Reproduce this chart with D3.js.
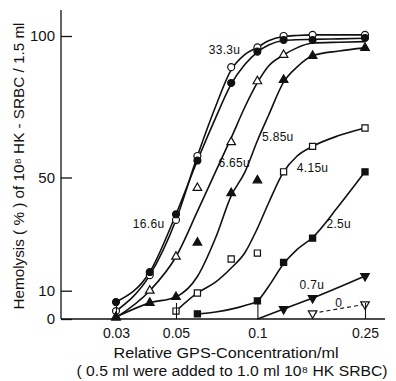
<!DOCTYPE html>
<html><head><meta charset="utf-8">
<script src="https://cdn.jsdelivr.net/npm/d3@7"></script>
<style>
html,body{margin:0;padding:0;background:#fff;}
svg{display:block;}
text{font-family:"Liberation Sans",Arial,sans-serif;fill:#111;}
</style></head>
<body>
<svg id="chart" width="396" height="381"></svg>
<script>
// ---- data ----
const conc = [0.03, 0.04, 0.05, 0.06, 0.08, 0.1, 0.125, 0.16, 0.25];
const u333 = [2.8, 15.5, 35, 57.6, 89, 96, 100, 100.4, 100.4];
const u166 = [6, 16.6, 37, 56, 83.4, 94.5, 98.6, 98.6, 99.3];
const u665 = [0.5, 10, 22, 46.3, 62.5, 84, 93.3, null, null];
const u585 = [0.7, 5.7, 7.8, 27, 44.5, 49, 84.5, 93, 95.8];
const u415 = [null, null, 2.8, 9.2, 21.2, 23.3, 52, 61, 67.5];
const u25  = [null, null, null, 1.8, null, 6.4, 20, 28.6, 52];
const u07  = [null, null, null, null, null, null, 3.5, 7.4, 15.2];
const u0   = [null, null, null, null, null, null, null, 2.0, 5.2];

// hand-fitted curves
const fitConc = [0.03, 0.04, 0.05, 0.06, 0.07, 0.08, 0.09, 0.1, 0.11, 0.125, 0.14, 0.16, 0.2, 0.25];
const fit333 = [2.8, 15.5, 35, 57.6, 75, 88, 93.5, 96, 98.3, 99.8, 100.2, 100.4, 100.4, 100.4];
const fit166 = [6, 16.6, 37, 56, 71, 83, 90, 94.3, 96.8, 98.4, 98.7, 98.8, 99, 99.2];
const fit665 = [0.5, 10, 22, 38, 52, 64, 75, 83.5, 89.4, 93.3, 95.8, 97.5, 97.8, 98];
const fit585 = [0.7, 5.7, 7.8, 15, 28.6, 43.5, 52, 63, 72, 83.7, 89, 93, 94.7, 95.8];
const fit415 = [null, null, 2.8, 9.2, 13, 18, 23.5, 32, 41, 52, 57.5, 61, 64.8, 67.5];
const fit25  = [null, null, null, 1.8, 2.5, 3.5, 4.8, 6.4, 11.5, 19.5, 24.5, 28.8, 40, 52];
const fit07  = [null, null, null, null, null, null, null, 0, null, 3.5, null, 7.4, null, 15.2];
const fit0   = [null, null, null, null, null, null, null, null, null, null, null, 2.0, null, 5.2];

const seriesNames = ["33.3u", "16.6u", "6.65u", "5.85u", "4.15u", "2.5u", "0.7u", "0"];
const labelConc = [0.0756, 0.0396, 0.0821, 0.119, 0.160, 0.200, 0.159, 0.200];
const labelVal  = [95.1, 33.6, 55.1, 64.3, 53.4, 33.6, 12.0, 5.6];

const xTicks = [0.03, 0.05, 0.1, 0.25];
const xTickLabels = ["0.03", "0.05", "0.1", "0.25"];
const yTicks = [0, 10, 50, 100];

// ---- chart ----
const svg = d3.select("#chart");
const x = d3.scaleLog().domain([0.03, 0.25]).range([116, 365]);
const y = d3.scaleLinear().domain([0, 100]).range([319, 36]);
const axisLeftX = 61, axisRightX = 385, axisTopY = 10;
const FONT = '"Liberation Sans",Arial,sans-serif';

const series = [
  {name: seriesNames[0], vals: u333, fit: fit333, sym: d3.symbolCircle, filled: false, rot: 0, size: 38},
  {name: seriesNames[1], vals: u166, fit: fit166, sym: d3.symbolCircle, filled: true, rot: 0, size: 38},
  {name: seriesNames[2], vals: u665, fit: fit665, sym: d3.symbolTriangle, filled: false, rot: 0, size: 32},
  {name: seriesNames[3], vals: u585, fit: fit585, sym: d3.symbolTriangle, filled: true, rot: 0, size: 32},
  {name: seriesNames[4], vals: u415, fit: fit415, sym: d3.symbolSquare, filled: false, rot: 0, size: 38},
  {name: seriesNames[5], vals: u25, fit: fit25, sym: d3.symbolSquare, filled: true, rot: 0, size: 38},
  {name: seriesNames[6], vals: u07, fit: fit07, sym: d3.symbolTriangle, filled: true, rot: 180, size: 32},
  {name: seriesNames[7], vals: u0, fit: fit0, sym: d3.symbolTriangle, filled: false, rot: 180, size: 32, dashed: true}
];

// axes lines
svg.append("line").attr("x1", axisLeftX).attr("x2", axisLeftX).attr("y1", axisTopY).attr("y2", y(0))
  .attr("stroke", "#111").attr("stroke-width", 1.3);
svg.append("line").attr("x1", axisLeftX).attr("x2", axisRightX).attr("y1", y(0)).attr("y2", y(0))
  .attr("stroke", "#111").attr("stroke-width", 1.6);

// y axis (ticks pointing inward, labels left)
const yAxis = d3.axisLeft(y).tickValues(yTicks).tickSizeInner(-11).tickSizeOuter(0).tickPadding(6);
const gy = svg.append("g").attr("transform", `translate(${axisLeftX},0)`).call(yAxis);
gy.select(".domain").remove();
gy.selectAll("line").attr("stroke", "#111").attr("stroke-width", 1.3);
gy.selectAll("text").attr("font-size", 15).attr("fill", "#222").style("font-family", FONT);

// curves
const line = d3.line().x(d => x(d[0])).y(d => y(d[1])).curve(d3.curveMonotoneX);
series.forEach(s => {
  const pts = fitConc.map((c, i) => [c, s.fit[i]]).filter(d => d[1] != null);
  svg.append("path").attr("d", line(pts)).attr("fill", "none").attr("stroke", "#111")
    .attr("stroke-width", s.dashed ? 1.1 : 1.6)
    .attr("stroke-dasharray", s.dashed ? "4,3" : null);
});

// markers
series.forEach(s => {
  const pts = conc.map((c, i) => [c, s.vals[i]]).filter(d => d[1] != null);
  svg.append("g").selectAll("path").data(pts).join("path")
    .attr("d", d3.symbol().type(s.sym).size(s.size))
    .attr("transform", d => `translate(${x(d[0])},${y(d[1])}) rotate(${s.rot})`)
    .attr("fill", s.filled ? "#111" : "#fff")
    .attr("stroke", "#111").attr("stroke-width", 1.2);
});

// x axis (ticks pointing up, drawn over markers as in the figure)
const xAxis = d3.axisBottom(x).tickValues(xTicks).tickFormat((d, i) => xTickLabels[i])
  .tickSizeInner(-16).tickSizeOuter(0).tickPadding(9);
const gx = svg.append("g").attr("transform", `translate(0,${y(0)})`).call(xAxis);
gx.select(".domain").remove();
gx.selectAll("line").attr("stroke", "#111").attr("stroke-width", 1.1);
gx.selectAll("text").attr("font-size", 14).attr("fill", "#222").style("font-family", FONT);

// series labels
svg.append("g").selectAll("text").data(seriesNames).join("text")
  .attr("x", (d, i) => x(labelConc[i])).attr("y", (d, i) => y(labelVal[i]))
  .attr("text-anchor", "middle").attr("dominant-baseline", "central")
  .attr("font-size", 12).attr("letter-spacing", 0.3).text(d => d);

// axis titles
svg.append("text").attr("transform", "translate(24,166) rotate(-90)")
  .attr("text-anchor", "middle").attr("font-size", 14)
  .attr("textLength", 287).attr("lengthAdjust", "spacingAndGlyphs")
  .text("Hemolysis ( % ) of 10⁸ HK - SRBC / 1.5 ml");
svg.append("text").attr("x", 226).attr("y", 358).attr("text-anchor", "middle").attr("font-size", 14)
  .attr("textLength", 225).attr("lengthAdjust", "spacingAndGlyphs")
  .text("Relative GPS-Concentration/ml");
svg.append("text").attr("x", 232).attr("y", 376).attr("text-anchor", "middle").attr("font-size", 14)
  .attr("textLength", 311).attr("lengthAdjust", "spacingAndGlyphs")
  .text("( 0.5 ml were added to 1.0 ml 10⁸ HK SRBC)");
</script>
</body></html>
